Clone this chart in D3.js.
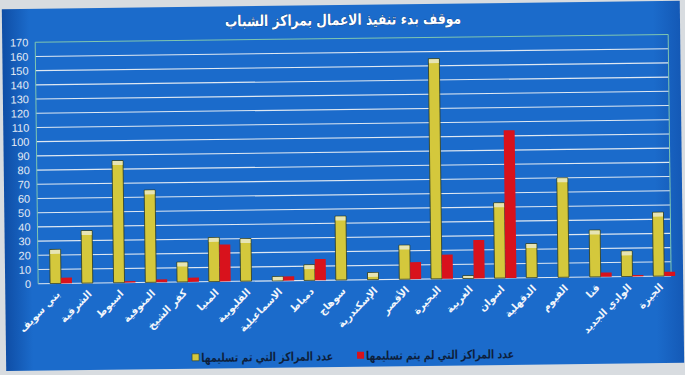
<!DOCTYPE html>
<html>
<head>
<meta charset="utf-8">
<script src="https://cdn.jsdelivr.net/npm/d3@7"></script>
<style>
  body { margin: 0; background: #d8dce0; }
  svg { display: block; }
</style>
</head>
<body>
<script>
const W = 685
const H = 375

// ===================================================================

const TITLE = 'موقف بدء تنفيذ الاعمال بمراكز الشباب'

const categories = [
  'بني سويف', 'الشرقية', 'اسيوط', 'المنوفية', 'كفر الشيخ', 'المنيا', 'القليوبية',
  'الاسماعيلية', 'دمياط', 'سوهاج', 'الإسكندرية', 'الأقصر', 'البحيرة', 'الغربية',
  'اسوان', 'الدقهلية', 'الفيوم', 'قنا', 'الوادي الجديد', 'الجيزة'
]

// centres delivered (yellow)
const delivered = [24, 37, 86, 65, 14, 31, 30, 3, 11, 45, 5, 24, 155, 2, 53, 24, 70, 33, 18, 45]
// centres not delivered (red)
const notDelivered = [4, 0, 1, 2, 3, 26, 0, 3, 15, 0, 0, 12, 17, 27, 104, 0, 0, 3, 1, 3]

const seriesNames = ['عدد المراكز التي تم تسليمها', 'عدد المراكز التي لم يتم تسليمها']
const yTicks = [0, 10, 20, 30, 40, 50, 60, 70, 80, 90, 100, 110, 120, 130, 140, 150, 160, 170]

// ===================================================================

const YELLOW = '#d4c83c'
const RED = '#d8121c'
const PANEL = '#1b6bcb'
const GRID = '#dfe8f2'
const BORDER = '#7fc6b0'
const ARABIC_FONT = '"DejaVu Sans", sans-serif'

const PLOT = { left: 37, right: 670, top: 38.5, bottom: 280 }

// legend: marker x, text width (the DejaVu Arabic glyphs run wider than the original font)
const LEGEND_X = [190, 355]
const LEGEND_TEXT_W = [132, 148]

const x = d3.scaleBand()
  .domain(categories)
  .range([44, 679])
  .paddingInner(0.31)
  .paddingOuter(0.155)

const xSeries = d3.scaleBand()
  .domain([0, 1])
  .range([0, x.bandwidth()])

const y = d3.scaleLinear()
  .domain([0, 170])
  .range([PLOT.bottom, PLOT.top])

const svg = d3.select('body').append('svg')
  .attr('width', W)
  .attr('height', H)

const defs = svg.append('defs')
const vignette = defs.append('linearGradient').attr('id', 'vignette')
vignette.append('stop').attr('offset', '0%').attr('stop-color', '#0f4ea6')
vignette.append('stop').attr('offset', '4%').attr('stop-color', PANEL)
vignette.append('stop').attr('offset', '96%').attr('stop-color', PANEL)
vignette.append('stop').attr('offset', '100%').attr('stop-color', '#1459b6')

// the photo is slightly tilted
const root = svg.append('g')
  .attr('transform', 'rotate(-0.7, 342, 187)')

root.append('rect')
  .attr('x', 4)
  .attr('y', 5)
  .attr('width', 678)
  .attr('height', 362)
  .attr('fill', 'url(#vignette)')

// title
root.append('text')
  .attr('x', 345)
  .attr('y', 25)
  .attr('text-anchor', 'middle')
  .attr('font-family', ARABIC_FONT)
  .attr('font-size', 15)
  .attr('font-weight', 'bold')
  .attr('textLength', 236)
  .attr('lengthAdjust', 'spacingAndGlyphs')
  .attr('fill', '#ffffff')
  .attr('stroke', '#0c2e66')
  .attr('stroke-width', 0.6)
  .attr('paint-order', 'stroke')
  .text(TITLE)

// grid
root.append('g')
  .selectAll('line')
  .data(yTicks)
  .join('line')
    .attr('x1', PLOT.left)
    .attr('x2', PLOT.right)
    .attr('y1', d => y(d))
    .attr('y2', d => y(d))
    .attr('stroke', d => d === 170 ? BORDER : GRID)
    .attr('stroke-width', 1.1)

root.append('line')
  .attr('x1', PLOT.left).attr('x2', PLOT.left)
  .attr('y1', y(170)).attr('y2', y(0))
  .attr('stroke', BORDER)
root.append('line')
  .attr('x1', PLOT.right).attr('x2', PLOT.right)
  .attr('y1', y(170)).attr('y2', y(0))
  .attr('stroke', BORDER)

// y axis labels
const yAxis = root.append('g')
  .attr('transform', `translate(${PLOT.left}, 0)`)
  .call(d3.axisLeft(y).tickValues(yTicks).tickSize(0).tickPadding(7))
yAxis.select('.domain').remove()
yAxis.selectAll('text')
  .attr('font-family', '"Liberation Sans", Arial, sans-serif')
  .attr('font-size', 11)
  .attr('fill', '#e4ebf4')

// bars
const groups = root.append('g')
  .selectAll('g')
  .data(categories)
  .join('g')
    .attr('transform', d => `translate(${x(d)}, 0)`)

groups.append('rect')
  .attr('x', xSeries(0))
  .attr('width', xSeries.bandwidth())
  .attr('y', (d, i) => y(delivered[i]))
  .attr('height', (d, i) => y(0) - y(delivered[i]))
  .attr('fill', YELLOW)
  .attr('stroke', '#2c3a26')
  .attr('stroke-width', 0.8)

groups.append('rect')
  .attr('x', xSeries(0) + 0.5)
  .attr('width', xSeries.bandwidth() - 1)
  .attr('y', (d, i) => y(delivered[i]) + 0.4)
  .attr('height', (d, i) => Math.min(4, y(0) - y(delivered[i]) - 0.8))
  .attr('fill', '#e6e4b4')

groups.append('rect')
  .attr('x', xSeries(1))
  .attr('width', xSeries.bandwidth())
  .attr('y', (d, i) => y(notDelivered[i]))
  .attr('height', (d, i) => y(0) - y(notDelivered[i]))
  .attr('fill', RED)

// category labels, rotated 45 degrees, ending under their bars
root.append('g')
  .selectAll('text')
  .data(categories)
  .join('text')
    .attr('transform', d => `translate(${x(d) + x.bandwidth() / 2 - 3}, ${PLOT.bottom + 9}) rotate(-45)`)
    .attr('text-anchor', 'end')
    .attr('dy', '0.35em')
    .attr('font-family', ARABIC_FONT)
    .attr('font-size', 10)
    .attr('font-weight', 'bold')
    .attr('fill', '#f2f6fb')
    .text(d => d)

// legend
const legend = root.append('g')
  .selectAll('g')
  .data(seriesNames)
  .join('g')
    .attr('transform', (d, i) => `translate(${LEGEND_X[i]}, 356)`)

legend.append('rect')
  .attr('x', 0)
  .attr('y', -4)
  .attr('width', 7)
  .attr('height', 7)
  .attr('fill', (d, i) => i === 0 ? YELLOW : RED)
  .attr('stroke', (d, i) => i === 0 ? '#2c3a26' : 'none')
  .attr('stroke-width', 0.6)

legend.append('text')
  .attr('x', 9)
  .attr('dy', '0.35em')
  .attr('font-family', ARABIC_FONT)
  .attr('font-size', 12)
  .attr('font-weight', 'bold')
  .attr('textLength', (d, i) => LEGEND_TEXT_W[i])
  .attr('lengthAdjust', 'spacingAndGlyphs')
  .attr('fill', '#0d1f3c')
  .text(d => d)
</script>
</body>
</html>
